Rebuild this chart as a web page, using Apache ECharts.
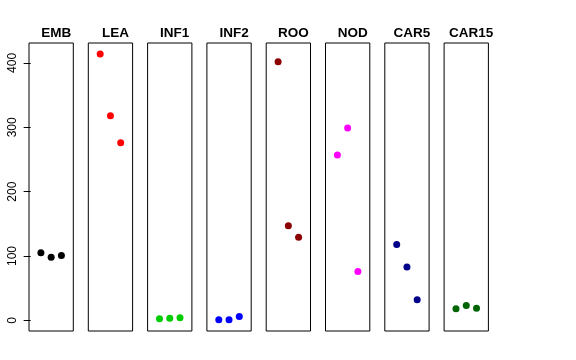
<!DOCTYPE html>
<html>
<head>
<meta charset="utf-8">
<script src="https://cdn.jsdelivr.net/npm/echarts@6/dist/echarts.min.js"></script>
<style>html,body{margin:0;padding:0;background:#fff}#c{width:576px;height:360px}</style>
</head>
<body>
<div id="c"></div>
<script>
const categories = ['EMB','LEA','INF1','INF2','ROO','NOD','CAR5','CAR15'];
const colors = ['#000000','#FF0000','#00CD00','#0000FF','#8B0000','#FF00FF','#00008B','#006400'];
const positions = [1, 2, 3];
const EMB = [105, 98, 101];
const LEA = [414, 318, 276];
const INF1 = [2.5, 3.5, 4];
const INF2 = [1, 1, 6];
const ROO = [402, 147, 129];
const NOD = [257, 299, 76];
const CAR5 = [118, 83, 32];
const CAR15 = [18, 23, 19];
const seriesValues = [EMB, LEA, INF1, INF2, ROO, NOD, CAR5, CAR15];
const yTicks = [0, 100, 200, 300, 400];

(function () {
const grids = [], xAxes = [], yAxes = [], series = [], titles = [];
const left0 = 29, pitch = 59.3, w = 44.3, gTop = 43, h = 288;
categories.forEach((name, i) => {
  const L = left0 + i * pitch;
  grids.push({left: L, top: gTop, width: w, height: h, show: true, borderColor: '#000', borderWidth: 1, backgroundColor: 'transparent'});
  xAxes.push({type: 'value', gridIndex: i, min: -0.16, max: 4.16, show: false});
  yAxes.push({
    type: 'value', gridIndex: i, min: -16.5, max: 431, show: i === 0,
    splitLine: {show: false}, axisLine: {show: false},
    axisTick: {show: true, length: 7, customValues: yTicks, lineStyle: {color: '#000'}},
    axisLabel: {show: true, customValues: yTicks, rotate: 90, margin: 10, color: '#000', fontSize: 12, fontFamily: 'Liberation Sans, Arial, sans-serif'}
  });
  series.push({
    type: 'scatter', xAxisIndex: i, yAxisIndex: i, symbol: 'circle', symbolSize: 7,
    itemStyle: {color: colors[i], opacity: 1}, silent: true,
    data: positions.map((p, k) => [p, seriesValues[i][k]])
  });
  titles.push({text: name, left: L + w / 2, top: 21, textAlign: 'center',
    textStyle: {fontSize: 13.5, fontWeight: 'bold', color: '#000', fontFamily: 'Liberation Sans, Arial, sans-serif'}});
});

const chart = echarts.init(document.getElementById('c'), null, {renderer: 'canvas'});
chart.setOption({animation: false, title: titles, grid: grids, xAxis: xAxes, yAxis: yAxes, series: series});
})();
</script>
</body>
</html>
